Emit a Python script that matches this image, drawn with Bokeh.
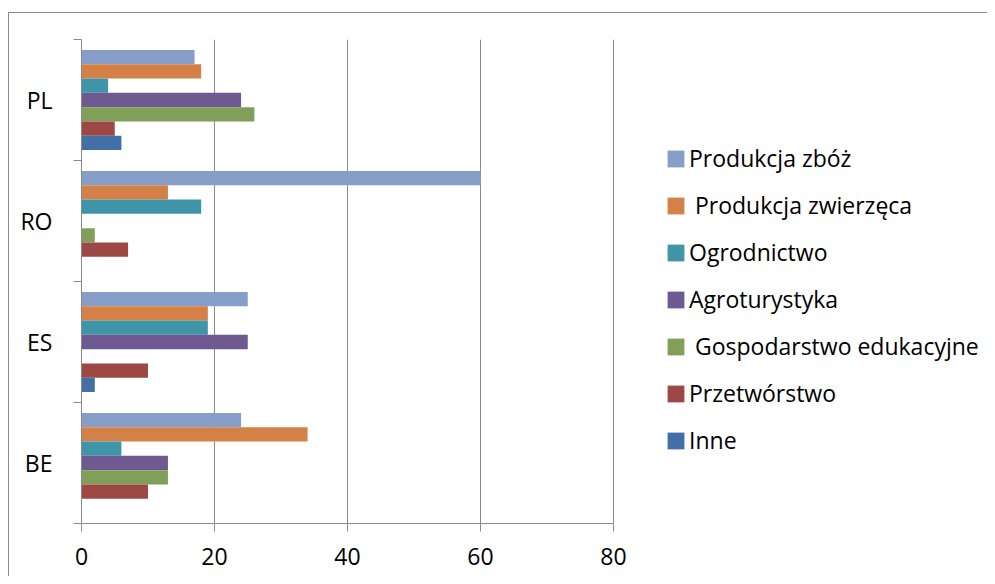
import numpy as np
from bokeh.plotting import figure
from bokeh.models import Legend, LegendItem, FixedTicker, Range1d
from bokeh.embed import file_html
from bokeh.resources import INLINE

# ---- data ----
countries = ["BE", "ES", "RO", "PL"]  # bottom to top
series_names = ["Produkcja zbóż", " Produkcja zwierzęca", "Ogrodnictwo", "Agroturystyka",
                " Gospodarstwo edukacyjne", "Przetwórstwo", "Inne"]
produkcja_zboz = [24, 25, 60, 17]
produkcja_zwierzeca = [34, 19, 13, 18]
ogrodnictwo = [6, 19, 18, 4]
agroturystyka = [13, 25, 0, 24]
gospodarstwo_edukacyjne = [13, 0, 2, 26]
przetworstwo = [10, 10, 7, 5]
inne = [0, 2, 0, 6]
x_ticks = [0, 20, 40, 60, 80]

series_values = [produkcja_zboz, produkcja_zwierzeca, ogrodnictwo, agroturystyka,
                 gospodarstwo_edukacyjne, przetworstwo, inne]
colors = ["#879EC8", "#D38146", "#4094A8", "#6E5990", "#80A05A", "#9E4846", "#426FA6"]

GRID = "#8a8a8a"
FONT = "Open Sans"

# plot area: axis part 532px wide for 0..80, the rest of the frame hosts the legend
W, BL, BR = 979, 72, 5
frame_w = W - BL - BR
axis_px = 532
x_end = x_ticks[-1] * frame_w / axis_px

p = figure(width=W, height=564, output_backend="svg", toolbar_location=None,
           x_range=Range1d(0, x_end), y_range=Range1d(0, 4),
           min_border_left=BL, min_border_right=BR, min_border_top=26, min_border_bottom=54)
p.margin = (12, 0, 0, 8)
p.styles = {"border-left": "1px solid #8c8c8c", "border-top": "1px solid #8c8c8c"}
p.outline_line_color = None
p.background_fill_color = "white"
p.border_fill_color = "white"

bar_h = 0.118
n = len(series_values)
centers = np.arange(len(countries)) + 0.5
renderers = []
for i, (vals, col) in enumerate(zip(series_values, colors)):
    off = ((n - 1) / 2 - i) * bar_h
    r = p.hbar(y=centers + off, left=0, right=vals, height=bar_h,
               fill_color=col, line_color=None)
    renderers.append(r)

# x axis
p.xaxis.ticker = FixedTicker(ticks=x_ticks)
p.xaxis.bounds = (x_ticks[0], x_ticks[-1])
p.xaxis.axis_line_color = GRID
p.xaxis.major_tick_line_color = GRID
p.xaxis.major_tick_out = 8
p.xaxis.major_tick_in = 0
p.xaxis.minor_tick_line_color = None
p.xaxis.major_label_text_font = FONT
p.xaxis.major_label_text_font_size = "23px"
p.xaxis.major_label_text_color = "black"
p.xaxis.major_label_standoff = 16

# y axis: labels at category centers, ticks at boundaries
p.yaxis.ticker = FixedTicker(ticks=list(centers), minor_ticks=list(range(len(countries) + 1)))
p.yaxis.major_label_overrides = {float(c): lab for c, lab in zip(centers, countries)}
p.yaxis.axis_line_color = GRID
p.yaxis.major_tick_line_color = None
p.yaxis.major_tick_out = 0
p.yaxis.major_tick_in = 0
p.yaxis.minor_tick_line_color = GRID
p.yaxis.minor_tick_out = 8
p.yaxis.minor_tick_in = 0
p.yaxis.major_label_text_font = FONT
p.yaxis.major_label_text_font_size = "23px"
p.yaxis.major_label_text_color = "black"
p.yaxis.major_label_standoff = 21

p.xgrid.grid_line_color = GRID
p.xgrid.grid_line_width = 1
p.xgrid.bounds = (x_ticks[0], x_ticks[-1])
p.ygrid.grid_line_color = None

items = [LegendItem(label=name, renderers=[r]) for name, r in zip(series_names, renderers)]
legend = Legend(items=items, location=(584, 67), orientation="vertical",
                border_line_color=None, background_fill_alpha=0,
                padding=0, margin=0, spacing=15,
                glyph_width=21, glyph_height=21, label_height=32, label_standoff=3,
                label_text_font=FONT, label_text_font_size="23px", label_text_color="black")
p.add_layout(legend, "center")

open("out.html", "w").write(file_html(p, INLINE))
